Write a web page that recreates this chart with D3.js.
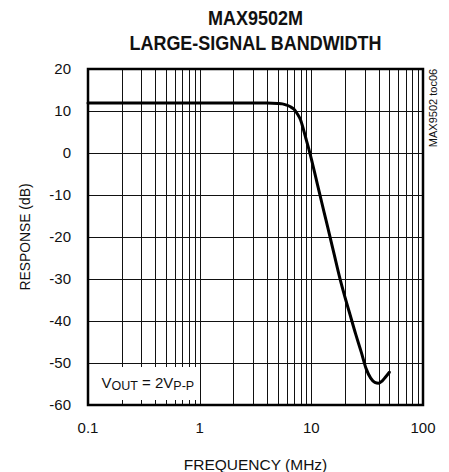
<!DOCTYPE html>
<html>
<head>
<meta charset="utf-8">
<script src="https://cdn.jsdelivr.net/npm/d3@7"></script>
<style>
  html, body { margin: 0; padding: 0; background: #fff; }
  svg { display: block; }
  text { font-family: "Liberation Sans", Arial, sans-serif; fill: #111; }
</style>
</head>
<body>
<svg id="chart" width="449" height="472"></svg>
<script>
// ---- data ----
const titleLines = ["MAX9502M", "LARGE-SIGNAL BANDWIDTH"];
const xTickValues = [0.1, 1, 10, 100];
const xTickLabels = ["0.1", "1", "10", "100"];
const yTickValues = [20, 10, 0, -10, -20, -30, -40, -50, -60];
const yTickLabels = ["20", "10", "0", "-10", "-20", "-30", "-40", "-50", "-60"];
const freqMHz = [0.1, 0.2, 0.5, 1, 2, 3, 4, 5, 5.5, 6, 6.5, 7, 7.5, 8, 8.5, 9, 9.5, 10,
                 11, 12, 13, 14, 16, 18, 20, 22, 25, 28, 31, 34, 37, 40, 43, 46, 50];
const responseDb = [11.9, 11.9, 11.9, 11.9, 11.9, 11.9, 11.9, 11.8, 11.7, 11.4, 11.0, 10.4, 9.3, 7.9, 5.6, 3.2, 0.9, -1.4,
                    -6.0, -10.2, -14.1, -17.6, -24.1, -29.8, -34.3, -38.1, -43.2, -47.4, -51.4, -53.6, -54.6, -54.8, -54.3, -53.4, -52.2];

// ---- layout ----
const L = 88, R = 423, T = 69, B = 405;
const svg = d3.select("#chart");
const x = d3.scaleLog().domain([0.1, 100]).range([L, R]);
const y = d3.scaleLinear().domain([-60, 20]).range([B, T]);

// minor/major vertical grid values
const vGrid = [];
[0.1, 1, 10].forEach(dec => { for (let k = 1; k <= 9; k++) vGrid.push(+(dec * k).toPrecision(3)); });
vGrid.push(100);

const grid = svg.append("g").attr("stroke", "#111").attr("stroke-width", 1);
grid.selectAll("line.v").data(vGrid).join("line")
  .attr("class", "v")
  .attr("x1", d => Math.round(x(d)) + 0.5).attr("x2", d => Math.round(x(d)) + 0.5)
  .attr("y1", T).attr("y2", B);
grid.selectAll("line.h").data(yTickValues).join("line")
  .attr("class", "h")
  .attr("x1", L).attr("x2", R)
  .attr("y1", d => Math.round(y(d)) + 0.5).attr("y2", d => Math.round(y(d)) + 0.5);

// white label box
svg.append("rect")
  .attr("x", L).attr("y", 367).attr("width", 197 - L).attr("height", 33)
  .attr("fill", "#fff");

// curve
const line = d3.line().x((d, i) => x(freqMHz[i])).y(d => y(d)).curve(d3.curveMonotoneX);
svg.append("path")
  .datum(responseDb)
  .attr("d", line)
  .attr("fill", "none")
  .attr("stroke", "#000")
  .attr("stroke-width", 3)
  .attr("stroke-linejoin", "round")
  .attr("stroke-linecap", "round");

// frame
svg.append("rect")
  .attr("x", L).attr("y", T).attr("width", R - L).attr("height", B - T)
  .attr("fill", "none").attr("stroke", "#000").attr("stroke-width", 2.5);

// x axis labels
svg.append("g").selectAll("text").data(xTickValues).join("text")
  .attr("x", d => x(d)).attr("y", 433)
  .attr("text-anchor", "middle")
  .attr("font-size", "15px")
  .text((d, i) => xTickLabels[i]);

// y axis labels
svg.append("g").selectAll("text").data(yTickValues).join("text")
  .attr("x", 71).attr("y", d => y(d))
  .attr("dy", "0.36em")
  .attr("text-anchor", "end")
  .attr("font-size", "15px")
  .text((d, i) => yTickLabels[i]);

// axis titles
svg.append("text")
  .attr("x", 255.5).attr("y", 470)
  .attr("text-anchor", "middle").attr("font-size", "15.5px")
  .text("FREQUENCY (MHz)");
svg.append("text")
  .attr("transform", "translate(30,237) rotate(-90)")
  .attr("text-anchor", "middle").attr("font-size", "15px")
  .attr("textLength", 107).attr("lengthAdjust", "spacingAndGlyphs")
  .text("RESPONSE (dB)");

// title
svg.append("text")
  .attr("x", 255.5).attr("y", 25)
  .attr("text-anchor", "middle").attr("font-size", "20px").attr("font-weight", "bold")
  .attr("textLength", 95).attr("lengthAdjust", "spacingAndGlyphs")
  .text(titleLines[0]);
svg.append("text")
  .attr("x", 255.5).attr("y", 50)
  .attr("text-anchor", "middle").attr("font-size", "20px").attr("font-weight", "bold")
  .attr("textLength", 252).attr("lengthAdjust", "spacingAndGlyphs")
  .text(titleLines[1]);

// side code
svg.append("text")
  .attr("transform", "translate(437,108) rotate(-90)")
  .attr("text-anchor", "middle").attr("font-size", "11px")
  .text("MAX9502 toc06");

// VOUT label
const vt = svg.append("text").attr("x", 101.5).attr("y", 388).attr("font-size", "15px");
vt.append("tspan").text("V");
vt.append("tspan").attr("font-size", "12.5px").attr("dy", 2).text("OUT");
vt.append("tspan").attr("dy", -2).text(" = 2V");
vt.append("tspan").attr("font-size", "12.5px").attr("dy", 2).text("P-P");
</script>
</body>
</html>
